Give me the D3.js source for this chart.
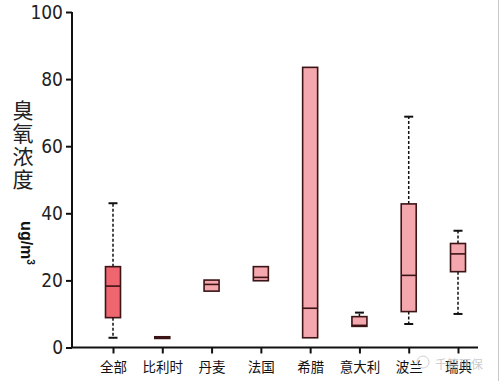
<!DOCTYPE html>
<html><head><meta charset="utf-8">
<script src="https://cdn.jsdelivr.net/npm/d3@7"></script>
<style>html,body{margin:0;padding:0;background:#fff;}svg{display:block;}</style>
</head><body>
<svg id="c" width="500" height="381"></svg>
<script>
const categories = ["全部","比利时","丹麦","法国","希腊","意大利","波兰","瑞典"];
const whiskerLow  = [2.9, null, null, null, null, null, 7.0, 10.0];
const q1          = [8.9, 2.7, 16.8, 19.9, 2.9, 6.3, 10.7, 22.6];
const median      = [18.3, 3.0, 18.8, 20.9, 11.7, 6.6, 21.5, 27.9];
const q3          = [24.1, 3.2, 20.1, 24.1, 83.5, 9.2, 42.8, 31.0];
const whiskerHigh = [43.0, null, null, null, null, 10.4, 68.8, 34.8];
const yTicks = [0, 20, 40, 60, 80, 100];

const svg = d3.select("#c");
const y = d3.scaleLinear().domain([0, 100]).range([347.5, 12]);
const x = d3.scalePoint().domain(categories).range([113, 458]);
const boxW = 15;

// right border artifact
svg.append("line").attr("x1",498.5).attr("x2",498.5).attr("y1",0).attr("y2",381)
  .attr("stroke","#c8c8c8").attr("stroke-width",1);

// y axis
const ya = svg.append("g").attr("transform","translate(72,0)")
  .call(d3.axisLeft(y).tickValues(yTicks).tickSize(6).tickPadding(3));
ya.select(".domain").attr("stroke","#111").attr("stroke-width",2).attr("d","M0,12V348");
ya.selectAll(".tick line").attr("stroke","#111").attr("stroke-width",2);
ya.selectAll(".tick text").attr("font-family","'Liberation Sans Narrow','DejaVu Sans Condensed',sans-serif")
  .attr("font-size",19).attr("fill","#222");

// x axis
const xa = svg.append("g").attr("transform","translate(0,347.5)")
  .call(d3.axisBottom(x).tickSize(6).tickPadding(6));
xa.select(".domain").attr("stroke","#111").attr("stroke-width",2).attr("d","M71,0H478");
xa.selectAll(".tick line").attr("stroke","#111").attr("stroke-width",2);
xa.selectAll(".tick text").attr("font-family","'Noto Sans CJK SC',sans-serif")
  .attr("font-size",13.5).attr("fill","#111").attr("dy","0.9em");

// boxes
const g = svg.append("g");
categories.forEach((c, i) => {
  const cx = x(c);
  const stroke = "#3b1416";
  const fill = i === 0 ? "#ef6670" : "#f4a7ad";
  if (whiskerHigh[i] != null) {
    g.append("line").attr("x1",cx).attr("x2",cx).attr("y1",y(q3[i])).attr("y2",y(whiskerHigh[i]))
      .attr("stroke","#111").attr("stroke-width",1.5).attr("stroke-dasharray","3,2");
    g.append("line").attr("x1",cx-4.5).attr("x2",cx+4.5).attr("y1",y(whiskerHigh[i])).attr("y2",y(whiskerHigh[i]))
      .attr("stroke","#111").attr("stroke-width",2);
  }
  if (whiskerLow[i] != null) {
    g.append("line").attr("x1",cx).attr("x2",cx).attr("y1",y(q1[i])).attr("y2",y(whiskerLow[i]))
      .attr("stroke","#111").attr("stroke-width",1.5).attr("stroke-dasharray","3,2");
    g.append("line").attr("x1",cx-4.5).attr("x2",cx+4.5).attr("y1",y(whiskerLow[i])).attr("y2",y(whiskerLow[i]))
      .attr("stroke","#111").attr("stroke-width",2);
  }
  g.append("rect").attr("x",cx-boxW/2).attr("width",boxW)
    .attr("y",y(q3[i])).attr("height",Math.max(0.5, y(q1[i])-y(q3[i])))
    .attr("fill",fill).attr("stroke",stroke).attr("stroke-width",1.6);
  g.append("line").attr("x1",cx-boxW/2).attr("x2",cx+boxW/2).attr("y1",y(median[i])).attr("y2",y(median[i]))
    .attr("stroke",stroke).attr("stroke-width",1.6);
});

// y axis title (vertical)
svg.append("text").attr("x",23).attr("y",100)
  .attr("style","writing-mode: vertical-rl; text-orientation: upright; letter-spacing: 2px;")
  .attr("font-family","'Noto Sans CJK SC',sans-serif").attr("font-size",21)
  .attr("fill","#222").text("臭氧浓度");
const unit = svg.append("text").attr("transform","translate(21,243) rotate(90)")
  .attr("font-family","'Liberation Sans','DejaVu Sans',sans-serif").attr("font-weight","bold")
  .attr("font-size",16).attr("fill","#111").attr("text-anchor","middle");
unit.append("tspan").text("ug/m");
unit.append("tspan").attr("font-size",10).attr("dy","-6").text("3");

// watermark (semi-transparent, overlaps the last label as in the reference)
svg.append("text").attr("x",435).attr("y",369).attr("font-family","'Noto Sans CJK SC',sans-serif")
  .attr("font-size",12).attr("fill","#bdbdbd").attr("fill-opacity",0.8).text("千篇环保");
svg.append("circle").attr("cx",423).attr("cy",362).attr("r",6).attr("fill","none").attr("stroke","#cfcfcf");
</script>
</body></html>
